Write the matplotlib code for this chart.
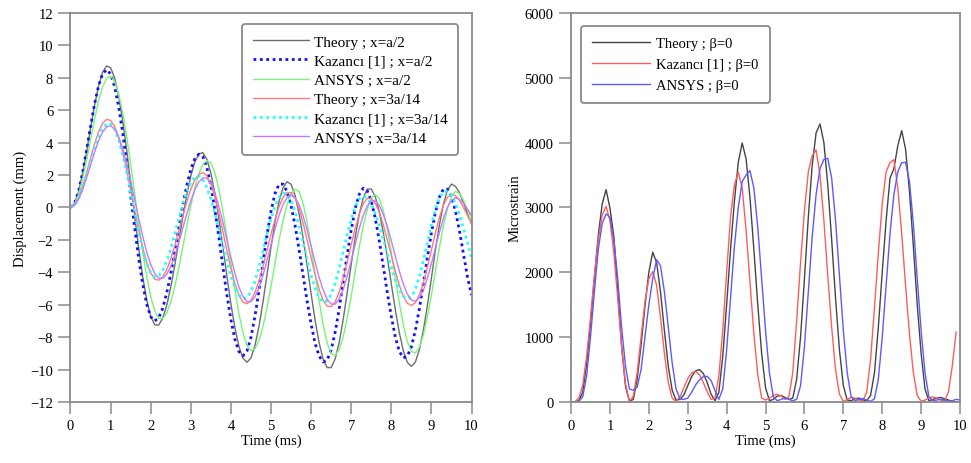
import numpy as np
import matplotlib
matplotlib.use('Agg')
import matplotlib.pyplot as plt

plt.rcParams['font.family'] = ['Liberation Serif', 'DejaVu Serif']

# ── Datos: desplazamiento (mm), paso de 0.1 ms ──────────────────────────────
t_disp = np.round(np.arange(0, 10.01, 0.1), 2)

theory_a2 = [0, 0.25, 0.95, 2.07, 3.42, 4.89, 6.30, 7.50, 8.33, 8.73,
             8.62, 8.00, 6.89, 5.38, 3.56, 1.55, -0.51, -2.49, -4.26, -5.69,
             -6.71, -7.24, -7.25, -6.83, -6.04, -4.92, -3.58, -2.10, -0.61, 0.77,
             1.94, 2.80, 3.30, 3.38, 2.98, 2.12, 0.86, -0.71, -2.44, -4.24,
             -5.95, -7.43, -8.58, -9.30, -9.55, -9.29, -8.52, -7.34, -5.83, -4.15,
             -2.45, -0.90, 0.37, 1.22, 1.59, 1.43, 0.75, -0.38, -1.87, -3.56,
             -5.32, -6.96, -8.35, -9.36, -9.88, -9.88, -9.34, -8.32, -6.91, -5.25,
             -3.50, -1.84, -0.43, 0.59, 1.13, 1.14, 0.66, -0.27, -1.55, -3.08,
             -4.71, -6.31, -7.73, -8.84, -9.56, -9.80, -9.54, -8.77, -7.57, -6.04,
             -4.36, -2.63, -1.07, 0.21, 1.07, 1.44, 1.30, 0.90, 0.30, -0.40,
             -1.00]

kazanci_a2 = [0, 0.25, 0.99, 2.13, 3.51, 4.99, 6.38, 7.51, 8.24, 8.50,
              8.24, 7.46, 6.23, 4.63, 2.75, 0.75, -1.25, -3.13, -4.73, -5.96,
              -6.74, -7.00, -6.80, -6.22, -5.27, -4.09, -2.72, -1.27, 0.12, 1.36,
              2.35, 3.01, 3.29, 3.14, 2.47, 1.35, -0.14, -1.84, -3.65, -5.39,
              -6.92, -8.14, -8.89, -9.15, -8.86, -8.02, -6.71, -5.13, -3.39, -1.70,
              -0.23, 0.86, 1.43, 1.44, 0.98, 0.12, -1.12, -2.60, -4.18, -5.77,
              -7.19, -8.39, -9.16, -9.53, -9.42, -8.79, -7.69, -6.25, -4.59, -2.91,
              -1.39, -0.06, 0.81, 1.19, 1.04, 0.40, -0.67, -2.06, -3.64, -5.26,
              -6.72, -8.00, -8.88, -9.28, -9.17, -8.60, -7.58, -6.24, -4.69, -3.08,
              -1.55, -0.29, 0.64, 1.14, 1.13, 0.68, -0.22, -1.45, -2.88, -4.30,
              -5.40]

ansys_a2 = [0, 0.20, 0.80, 1.73, 2.90, 4.18, 5.45, 6.58, 7.44, 7.97,
            8.09, 7.77, 7.01, 5.88, 4.41, 2.70, 0.88, -0.96, -2.73, -4.26,
            -5.49, -6.39, -6.84, -6.86, -6.51, -5.83, -4.89, -3.73, -2.46, -1.14,
            0.10, 1.19, 2.07, 2.65, 2.89, 2.75, 2.14, 1.12, -0.24, -1.80,
            -3.47, -5.11, -6.56, -7.73, -8.51, -8.84, -8.72, -8.20, -7.33, -6.18,
            -4.85, -3.44, -2.04, -0.81, 0.19, 0.85, 1.13, 0.97, 0.26, -0.92,
            -2.42, -4.09, -5.75, -7.24, -8.36, -9.02, -9.13, -8.76, -7.98, -6.83,
            -5.46, -3.95, -2.45, -1.14, -0.11, 0.57, 0.80, 0.55, -0.19, -1.35,
            -2.77, -4.33, -5.89, -7.25, -8.27, -8.87, -8.98, -8.63, -7.87, -6.75,
            -5.40, -3.92, -2.46, -1.12, -0.04, 0.68, 0.99, 0.85, 0.45, -0.15,
            -0.90]

theory_3a14 = [0, 0.15, 0.59, 1.29, 2.13, 3.05, 3.92, 4.67, 5.19, 5.43,
               5.37, 5.00, 4.33, 3.43, 2.33, 1.10, -0.15, -1.38, -2.48, -3.41,
               -4.04, -4.42, -4.49, -4.28, -3.84, -3.17, -2.37, -1.45, -0.52, 0.35,
               1.13, 1.70, 2.04, 2.15, 1.95, 1.44, 0.63, -0.36, -1.50, -2.66,
               -3.75, -4.70, -5.42, -5.84, -5.94, -5.74, -5.25, -4.54, -3.63, -2.65,
               -1.65, -0.74, 0.05, 0.62, 0.92, 0.91, 0.57, -0.07, -0.97, -2.00,
               -3.10, -4.15, -5.06, -5.72, -6.09, -6.12, -5.83, -5.22, -4.37, -3.36,
               -2.30, -1.28, -0.41, 0.23, 0.56, 0.56, 0.27, -0.29, -1.06, -1.99,
               -2.97, -3.94, -4.80, -5.47, -5.90, -6.05, -5.88, -5.40, -4.64, -3.68,
               -2.63, -1.57, -0.61, 0.15, 0.63, 0.80, 0.72, 0.45, 0.00, -0.50,
               -1.00]

kazanci_3a14 = [0, 0.14, 0.55, 1.19, 1.96, 2.81, 3.64, 4.36, 4.89, 5.16,
                5.16, 4.83, 4.18, 3.27, 2.19, 0.95, -0.31, -1.51, -2.54, -3.43,
                -4.02, -4.28, -4.23, -3.90, -3.31, -2.55, -1.64, -0.71, 0.19, 0.97,
                1.56, 1.88, 1.94, 1.71, 1.24, 0.52, -0.36, -1.34, -2.36, -3.35,
                -4.24, -4.94, -5.42, -5.63, -5.57, -5.19, -4.54, -3.67, -2.68, -1.66,
                -0.71, 0.07, 0.63, 0.89, 0.82, 0.43, -0.25, -1.15, -2.16, -3.21,
                -4.19, -4.99, -5.57, -5.84, -5.77, -5.37, -4.68, -3.77, -2.73, -1.68,
                -0.73, 0.04, 0.53, 0.70, 0.58, 0.22, -0.37, -1.10, -1.94, -2.83,
                -3.69, -4.46, -5.07, -5.47, -5.64, -5.53, -5.05, -4.27, -3.26, -2.16,
                -1.07, -0.12, 0.59, 0.95, 0.98, 0.75, 0.25, -0.45, -1.30, -2.20,
                -3.10]

ansys_3a14 = [0, 0.13, 0.50, 1.08, 1.81, 2.61, 3.40, 4.10, 4.64, 4.97,
              5.04, 4.84, 4.36, 3.65, 2.73, 1.65, 0.50, -0.66, -1.77, -2.74,
              -3.51, -4.08, -4.36, -4.37, -4.12, -3.64, -2.96, -2.15, -1.28, -0.40,
              0.41, 1.09, 1.57, 1.82, 1.81, 1.50, 0.91, 0.07, -0.92, -2.00,
              -3.08, -4.07, -4.91, -5.50, -5.81, -5.81, -5.52, -4.97, -4.20, -3.28,
              -2.31, -1.34, -0.49, 0.18, 0.60, 0.75, 0.60, 0.16, -0.53, -1.39,
              -2.38, -3.37, -4.31, -5.08, -5.66, -5.96, -5.96, -5.65, -5.06, -4.24,
              -3.28, -2.27, -1.31, -0.49, 0.10, 0.41, 0.41, 0.13, -0.42, -1.16,
              -2.06, -3.01, -3.93, -4.73, -5.34, -5.71, -5.79, -5.58, -5.10, -4.36,
              -3.47, -2.50, -1.54, -0.68, 0.01, 0.45, 0.60, 0.50, 0.25, -0.10,
              -0.50]

# ── Datos: microdeformación, paso de 0.1 ms ─────────────────────────────────
t_strain = np.round(np.arange(0, 10.01, 0.1), 2)

strain_theory = [0, 0, 20, 150, 590, 1210, 1920, 2570, 3050, 3275,
                 2990, 2550, 1730, 870, 240, 10, 40, 350, 880, 1480,
                 2000, 2310, 2150, 1700, 1100, 550, 180, 30, 40, 110,
                 250, 390, 480, 500, 440, 300, 120, 20, 150, 700,
                 1500, 2350, 3100, 3700, 3995, 3750, 3150, 2350, 1500, 750,
                 220, 20, 40, 90, 100, 70, 40, 60, 350, 1000,
                 1900, 2850, 3650, 4150, 4288, 4000, 3350, 2500, 1600, 800,
                 250, 30, 20, 50, 60, 30, 20, 100, 450, 1150,
                 2000, 2800, 3450, 3600, 3950, 4185, 3900, 3250, 2400, 1500,
                 750, 200, 20, 40, 60, 70, 50, 30, 10, 0,
                 0]

strain_kazanci = [0, 5, 60, 260, 700, 1300, 1950, 2500, 2880, 3018,
                  2800, 2300, 1600, 850, 280, 10, 90, 450, 1000, 1550,
                  1900, 2010, 1800, 1300, 750, 300, 60, 10, 80, 220,
                  360, 450, 473, 420, 300, 160, 40, 60, 400, 1100,
                  2000, 2850, 3350, 3543, 3300, 2650, 1850, 1050, 420, 60,
                  30, 60, 100, 120, 90, 40, 80, 450, 1250, 2150,
                  2950, 3550, 3800, 3887, 3500, 2800, 1950, 1150, 500, 120,
                  10, 40, 70, 60, 30, 20, 150, 650, 1450, 2300,
                  3050, 3550, 3690, 3737, 3300, 2600, 1800, 1050, 450, 100,
                  10, 30, 60, 80, 60, 30, 20, 150, 550, 1080]

strain_ansys = [0, 0, 10, 80, 400, 1000, 1700, 2350, 2750, 2900,
                2850, 2500, 1900, 1150, 550, 200, 180, 230, 500, 1000,
                1500, 1900, 2195, 2100, 1700, 1150, 600, 200, 50, 40,
                60, 150, 260, 340, 390, 396, 330, 180, 40, 200,
                800, 1600, 2400, 3000, 3400, 3500, 3568, 3300, 2700, 1900,
                1100, 450, 80, 20, 40, 60, 40, 20, 40, 250,
                850, 1700, 2550, 3200, 3600, 3740, 3757, 3450, 2800, 1950,
                1100, 450, 80, 20, 40, 50, 30, 10, 50, 350,
                1000, 1800, 2600, 3200, 3550, 3690, 3697, 3400, 2750, 1900,
                1100, 450, 80, 20, 30, 40, 30, 10, 20, 40,
                30]

# ── Estilo ────────────────────────────────────────────────────────────────────
GREY_AX = '#8a8a8a'
FS = 10.5


def style_axes(ax):
    for sp in ax.spines.values():
        sp.set_color(GREY_AX)
        sp.set_linewidth(1.3)
    ax.tick_params(direction='out', length=8.5, width=1.1, color=GREY_AX,
                   labelsize=FS, pad=4, top=False, right=False)
    ax.set_xlim(0, 10)
    ax.set_xticks(range(0, 11))
    ax.set_xlabel('Time (ms)', fontsize=FS, labelpad=1)


def style_legend(leg):
    leg.get_frame().set_edgecolor(GREY_AX)
    leg.get_frame().set_linewidth(1.3)


fig = plt.figure(figsize=(9.71, 4.64), dpi=100)
ax1 = fig.add_axes([0.0726, 0.1315, 0.4130, 0.8385])
ax2 = fig.add_axes([0.5881, 0.1315, 0.4006, 0.8385])

# ── Panel izquierdo: desplazamiento ──────────────────────────────────────────
dot = (0, (1.0, 1.3))
ax1.plot(t_disp, theory_a2, color='#6e6e6e', lw=1.0, label='Theory ; x=a/2')
ax1.plot(t_disp, kazanci_a2, color='#1010ff', lw=2.0, ls=dot, label='Kazancı [1] ; x=a/2')
ax1.plot(t_disp, ansys_a2, color='#77f577', lw=1.0, label='ANSYS ; x=a/2')
ax1.plot(t_disp, theory_3a14, color='#ff7b7b', lw=1.0, label='Theory ; x=3a/14')
ax1.plot(t_disp, kazanci_3a14, color='#22ffff', lw=2.0, ls=dot, label='Kazancı [1] ; x=3a/14')
ax1.plot(t_disp, ansys_3a14, color='#c27cff', lw=1.0, label='ANSYS ; x=3a/14')
ax1.set_ylim(-12, 12)
ax1.set_yticks(range(-12, 13, 2))
ax1.set_ylabel('Displacement (mm)', fontsize=FS, labelpad=2)
style_axes(ax1)
leg1 = ax1.legend(loc='upper right', bbox_to_anchor=(0.9675, 0.972), fontsize=11,
                  handlelength=3.7, handletextpad=0.3, labelspacing=0.36,
                  borderpad=0.72, borderaxespad=0, fancybox=True, framealpha=1)
style_legend(leg1)

# ── Panel derecho: microdeformación ──────────────────────────────────────────
ax2.plot(t_strain, strain_theory, color='#444444', lw=1.0, label='Theory ; β=0')
ax2.plot(t_strain[:len(strain_kazanci)], strain_kazanci, color='#ff5c5c', lw=1.0,
         label='Kazancı [1] ; β=0')
ax2.plot(t_strain, strain_ansys, color='#5a5aff', lw=1.0, label='ANSYS ; β=0')
ax2.set_ylim(0, 6000)
ax2.set_yticks(range(0, 6001, 1000))
ax2.set_ylabel('Microstrain', fontsize=FS, labelpad=2)
style_axes(ax2)
leg2 = ax2.legend(loc='upper left', bbox_to_anchor=(0.026, 0.967), fontsize=FS,
                  handlelength=4.0, handletextpad=0.4, labelspacing=0.54,
                  borderpad=0.75, borderaxespad=0, fancybox=True, framealpha=1)
style_legend(leg2)

fig.savefig('out.png', dpi=100)
